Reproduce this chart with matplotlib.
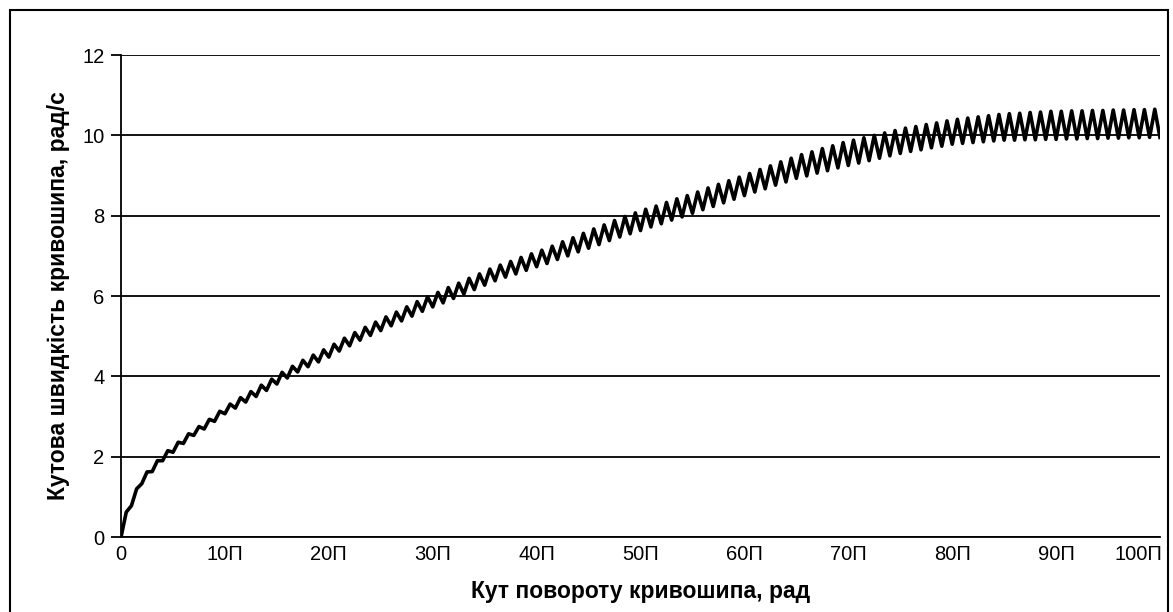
import numpy as np
import matplotlib
matplotlib.use("Agg")
import matplotlib.pyplot as plt
from matplotlib.patches import Rectangle
from matplotlib.transforms import ScaledTranslation

plt.rcParams['font.family'] = ['Liberation Sans', 'DejaVu Sans']

# Мінімуми кутової швидкості (рад/с) на початку кожного півоберту, кут = k*П, k = 0..100
troughs = [
    0.00, 0.78, 1.33, 1.63, 1.90, 2.11, 2.33, 2.53, 2.69, 2.88,
    3.07, 3.21, 3.36, 3.50, 3.65, 3.81, 3.96, 4.11, 4.24, 4.36,
    4.48, 4.63, 4.76, 4.90, 5.02, 5.14, 5.26, 5.38, 5.50, 5.62,
    5.73, 5.83, 5.94, 6.05, 6.16, 6.27, 6.38, 6.47, 6.55, 6.64,
    6.73, 6.81, 6.91, 7.00, 7.10, 7.19, 7.28, 7.38, 7.47, 7.55,
    7.63, 7.72, 7.80, 7.89, 7.97, 8.06, 8.15, 8.23, 8.32, 8.41,
    8.50, 8.59, 8.67, 8.76, 8.84, 8.93, 8.99, 9.06, 9.12, 9.19,
    9.25, 9.31, 9.37, 9.43, 9.49, 9.55, 9.60, 9.64, 9.69, 9.73,
    9.78, 9.80, 9.82, 9.84, 9.86, 9.88, 9.88, 9.89, 9.89, 9.90,
    9.90, 9.91, 9.91, 9.92, 9.92, 9.93, 9.93, 9.94, 9.94, 9.95,
    9.95,
]

# Максимуми (рад/с) посередині кожного інтервалу, кут = (k + 0.5)*П, k = 0..99
peaks = [
    0.62, 1.20, 1.62, 1.90, 2.15, 2.36, 2.57, 2.75, 2.93, 3.13,
    3.31, 3.47, 3.62, 3.78, 3.93, 4.10, 4.25, 4.40, 4.53, 4.66,
    4.80, 4.95, 5.09, 5.22, 5.35, 5.48, 5.60, 5.73, 5.86, 5.98,
    6.09, 6.21, 6.32, 6.44, 6.55, 6.67, 6.77, 6.86, 6.96, 7.05,
    7.14, 7.24, 7.35, 7.45, 7.56, 7.67, 7.77, 7.88, 7.98, 8.07,
    8.16, 8.24, 8.33, 8.42, 8.50, 8.59, 8.69, 8.78, 8.87, 8.96,
    9.05, 9.15, 9.24, 9.34, 9.43, 9.52, 9.59, 9.67, 9.74, 9.82,
    9.88, 9.94, 10.00, 10.06, 10.12, 10.18, 10.22, 10.27, 10.31, 10.36,
    10.40, 10.43, 10.46, 10.49, 10.52, 10.54, 10.55, 10.57, 10.58, 10.60,
    10.60, 10.61, 10.61, 10.62, 10.62, 10.63, 10.63, 10.64, 10.64, 10.65,
]

tick_mult = [0, 10, 20, 30, 40, 50, 60, 70, 80, 90, 100]
tick_labels = ['0', '10П', '20П', '30П', '40П', '50П', '60П', '70П', '80П', '90П', '100П']
y_ticks = [0, 2, 4, 6, 8, 10, 12]

# Послідовність точок: мінімум, максимум, мінімум, ...
angle = []
omega = []
for k in range(len(peaks)):
    angle.append(k * np.pi)
    omega.append(troughs[k])
    angle.append((k + 0.5) * np.pi)
    omega.append(peaks[k])
angle.append(len(peaks) * np.pi)
omega.append(troughs[-1])

fig = plt.figure(figsize=(11.73, 6.12), dpi=100)
ax = fig.add_axes([0.1032, 0.1225, 0.8857, 0.7876])

ax.plot(angle, omega, color='black', linewidth=2.6, zorder=3)

ax.set_xlim(0, 100 * np.pi)
ax.set_ylim(0, 12)
ax.set_yticks(y_ticks)
ax.set_xticks([m * np.pi for m in tick_mult])
ax.set_xticklabels(tick_labels)

ax.grid(axis='y', color='black', linewidth=1.3)
ax.set_axisbelow(True)
for side in ['top', 'right']:
    ax.spines[side].set_visible(False)
ax.spines['left'].set_linewidth(1.3)
ax.spines['bottom'].set_linewidth(1.3)
ax.tick_params(axis='y', length=7, width=1.3, labelsize=14.5, pad=5)
ax.tick_params(axis='x', length=0, labelsize=14.5, pad=6)

# останню підпис зсуваємо всередину, як в оригіналі
last = ax.get_xticklabels()[-1]
last.set_horizontalalignment('right')
last.set_transform(last.get_transform() + ScaledTranslation(0.02, 0, fig.dpi_scale_trans))

ax.set_xlabel('Кут повороту кривошипа, рад', fontsize=16.5, fontweight='bold', labelpad=11)
ax.set_ylabel('Кутова швидкість кривошипа, рад/с', fontsize=16.5, fontweight='bold', labelpad=9)

# Рамка навколо всієї діаграми
fig.patches.append(Rectangle((10 / 1173, -0.01), 1158 / 1173, 1.01 - 10 / 612,
                             transform=fig.transFigure, fill=False,
                             edgecolor='black', linewidth=1.5))

fig.savefig('out.png', dpi=100)
